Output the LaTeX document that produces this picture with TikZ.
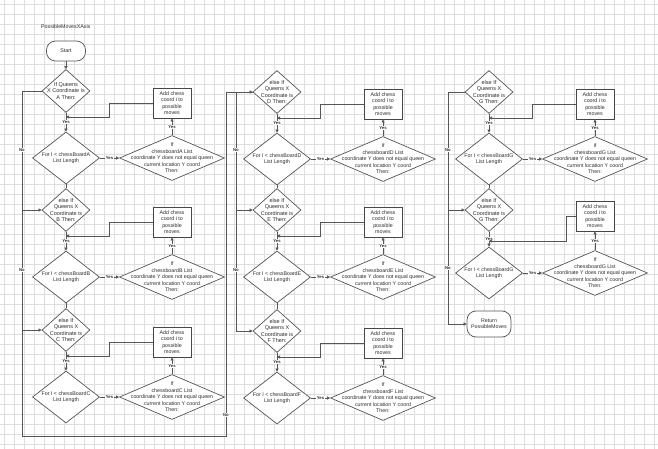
\documentclass[tikz,border=0pt]{standalone}
\usepackage{fontspec}
\setmainfont{Liberation Sans}
\usetikzlibrary{shapes.geometric,arrows.meta}
\definecolor{gridc}{RGB}{222,222,222}
\definecolor{linec}{RGB}{85,85,85}
\definecolor{boxc}{RGB}{70,70,70}
\definecolor{txtc}{RGB}{45,45,45}
\tikzset{
 dshape/.style={diamond, draw=linec, line width=0.7pt, inner sep=0pt, fill=white},
 etext/.style={align=center, font=\fontsize{5.5}{6.3}\selectfont, text=txtc, inner sep=0pt},
 ftext/.style={align=center, font=\fontsize{5.3}{6.5}\selectfont, text=txtc, inner sep=0pt},
 addbox/.style={draw=boxc, line width=0.85pt, fill=white, minimum width=38, minimum height=30, inner sep=0pt, align=center, font=\fontsize{5.3}{6.3}\selectfont, text=txtc},
 term/.style={draw=linec, line width=0.7pt, fill=white, inner sep=0pt, align=center, font=\fontsize{5.3}{6.3}\selectfont, text=txtc},
 conn/.style={draw=linec, line width=0.6pt},
 arr/.style={conn, -{Triangle[length=3pt,width=3pt]}},
 yl/.style={font=\fontsize{4.2}{5}\selectfont\bfseries, text=txtc, fill=white, inner sep=0.6pt},
}
% #1 tag, #2 x, #3 y, #4 letter, #5 else-if text, #6 body dy, #7 box dy, #8 loop dy, #9 loop dx
\newcommand{\qmod}[9]{%
 \node[dshape, minimum width=48, minimum height=43] (e#1) at (#2,#3) {};
 \node[etext] (e#1t) at (e#1.center) {#5};
 \node[dshape, minimum width=67, minimum height=52] (f#1) at (#2,#3+#6) {};
 \node[ftext] (f#1t) at (f#1.center) {For I < chessBoard#4\\List Length};
 \node[dshape, minimum width=105, minimum height=45] (i#1) at (#2+106,#3+#6) {};
 \node[ftext] (i#1t) at (i#1.center) {If\\chessboard#4 List\\coordinate Y does not equal queen\\current location Y coord\\Then:};
 \node[addbox] (b#1) at (#2+106,#3+#7) {Add chess\\coord i to\\possible\\moves};
 \coordinate (j#1) at (#2,#3+#8);
 \coordinate (k#1) at (#2+#9,#3+#7);
 \coordinate (m#1) at (#2+#9,#3+#8);
 \draw[arr] (e#1.south) -- node[yl]{Yes} (f#1.north);
 \draw[arr] (f#1.east) -- node[yl]{Yes} (i#1.west);
 \draw[arr] (i#1.north) -- node[yl]{Yes} (b#1.south);
 \draw[arr] (b#1.west) -- (k#1) -- (m#1) -- (j#1);
}
\begin{document}
\begin{tikzpicture}[x=1pt,y=-1pt]
\useasboundingbox (0,0) rectangle (658,449);
\fill[white] (0,0) rectangle (658,449);
\foreach \gx in {4,14,...,654} \draw[gridc, line width=0.35pt] (\gx,0) -- (\gx,449);
\foreach \gy in {4,14,...,444} \draw[gridc, line width=0.35pt] (0,\gy) -- (658,\gy);

\node[anchor=west, font=\fontsize{5.3}{6.3}\selectfont, text=txtc, inner sep=0pt] (title) at (41,26.7) {PossibleMovesXAxis};
\node[term, minimum width=39, minimum height=20, rounded corners=9pt] (start) at (66,51) {Start};
\node[term, minimum width=44, minimum height=26, rounded corners=9pt] (ret) at (489,324) {Return\\PossibleMoves};

\qmod{A}{66}{91}{A}{If Queens\\X Coordinate is\\A Then:}{67}{12}{26}{43}
\qmod{B}{66}{210}{B}{else If\\Queens X\\Coordinate is\\B Then:}{67}{12}{26}{43}
\qmod{C}{66}{330}{C}{else If\\Queens X\\Coordinate is\\C Then:}{67}{12}{26}{43}
\qmod{D}{277}{92}{D}{else If\\Queens X\\Coordinate is\\D Then:}{67}{12}{26}{43}
\qmod{E}{277}{210}{E}{else If\\Queens X\\Coordinate is\\E Then:}{67}{12}{26}{43}
\qmod{F}{277}{331}{F}{else If\\Queens X\\Coordinate is\\F Then:}{67}{12}{26}{43}
\qmod{G}{489}{92}{G}{else If\\Queens X\\Coordinate is\\G Then:}{67}{12}{26}{43}
\qmod{H}{489}{210}{G}{else If\\Queens X\\Coordinate is\\G Then:}{63}{6}{31}{77}

\draw[arr] (start.south) -- (eA.north);
\draw[conn] (fA.south) -- (eB.north);
\draw[conn] (fB.south) -- (eC.north);
\draw[conn] (fD.south) -- (eE.north);
\draw[conn] (fE.south) -- (eF.north);
\draw[conn] (fG.south) -- (eH.north);

% column 1 "No" path
\coordinate (nA1) at (22,91);
\coordinate (nA2) at (22,436);
\coordinate (nA3) at (226,436);
\coordinate (nA4) at (226,92);
\coordinate (nB) at (22,210);
\coordinate (nC) at (22,330);
\draw[arr] (eA.west) -- (nA1) -- (nA2) -- (nA3) -- (nA4) -- (eD.west);
\draw[arr] (nB) -- (eB.west);
\draw[arr] (nC) -- (eC.west);

% column 2 "No" path
\coordinate (nD1) at (236,92);
\coordinate (nD2) at (236,331);
\coordinate (nE) at (236,210);
\draw[arr] (eD.west) -- (nD1) -- (nD2) -- (eF.west);
\draw[arr] (nE) -- (eE.west);

% column 3 "No" path
\coordinate (nG1) at (448,92);
\coordinate (nG2) at (448,324);
\coordinate (nH) at (448,210);
\draw[arr] (eG.west) -- (nG1) -- (nG2) -- (ret.west);
\draw[arr] (nH) -- (eH.west);

\node[yl] (no1) at (22,150) {No};
\node[yl] (no2) at (22,270) {No};
\node[yl] (no3) at (226,415) {No};
\node[yl] (no4) at (236,150) {No};
\node[yl] (no5) at (236,270) {No};
\node[yl] (no6) at (448,150) {No};
\node[yl] (no7) at (448,268) {No};
\end{tikzpicture}
\end{document}
